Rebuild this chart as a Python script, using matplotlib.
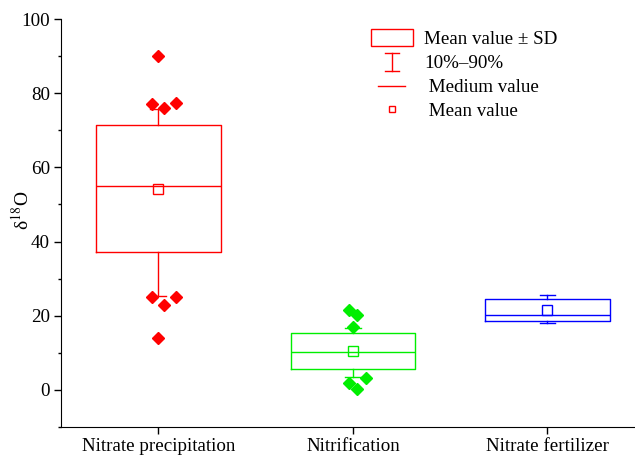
import matplotlib
matplotlib.use("Agg")
import matplotlib.pyplot as plt
from matplotlib.lines import Line2D
from matplotlib.patches import Patch
from matplotlib.legend_handler import HandlerBase

# sources on the x axis
categories = ["Nitrate precipitation", "Nitrification", "Nitrate fertilizer"]
colors = ["#ff0000", "#00ee00", "#0000ff"]

# box = mean +/- SD, whiskers = 10%-90%
means = [54.2, 10.6, 21.6]
sds = [17.15, 4.85, 2.9]
medians = [55.0, 10.3, 20.1]
p10 = [25.3, 3.4, 18.1]
p90 = [75.7, 16.8, 25.6]

# individual samples
red_points = [90.0, 77.0, 75.9, 77.3, 25.0, 23.0, 25.0, 13.9]
green_points = [21.6, 20.2, 17.0, 3.1, 1.9, 0.3]
blue_points = []
points = [red_points, green_points, blue_points]

plt.rcParams["font.family"] = ["Liberation Serif", "DejaVu Serif"]
plt.rcParams["mathtext.fontset"] = "stix"
FS = 13.7


class WhiskerHandler(HandlerBase):
    # little "I" shape for the 10%-90% entry
    def create_artists(self, legend, orig_handle, xdescent, ydescent,
                       width, height, fontsize, trans):
        cx = width / 2 - xdescent
        cap = width * 0.16
        y0 = -ydescent
        y1 = height - ydescent
        c = orig_handle.get_color()
        lines = [
            Line2D([cx, cx], [y0, y1], color=c, lw=1),
            Line2D([cx - cap, cx + cap], [y0, y0], color=c, lw=1),
            Line2D([cx - cap, cx + cap], [y1, y1], color=c, lw=1),
        ]
        for ln in lines:
            ln.set_transform(trans)
        return lines


class ShortLineHandler(HandlerBase):
    # median entry uses a shorter line than the box
    def create_artists(self, legend, orig_handle, xdescent, ydescent,
                       width, height, fontsize, trans):
        cx = width / 2 - xdescent
        half = width * 0.32
        y = height / 2 - ydescent
        ln = Line2D([cx - half, cx + half], [y, y],
                    color=orig_handle.get_color(), lw=1)
        ln.set_transform(trans)
        return [ln]


fig = plt.figure(figsize=(6.35, 4.58), dpi=100)
ax = fig.add_axes([0.096, 0.0677, 0.904, 0.8908])

positions = [1, 2, 3]
stats = []
for i in range(3):
    stats.append({
        "med": medians[i],
        "q1": means[i] - sds[i],
        "q3": means[i] + sds[i],
        "whislo": p10[i],
        "whishi": p90[i],
        "mean": means[i],
        "fliers": [],
    })

bp = ax.bxp(stats, positions=positions, widths=0.64, capwidths=0.08,
            showmeans=True, showfliers=False, patch_artist=False)

for i, c in enumerate(colors):
    bp["boxes"][i].set(color=c, lw=1)
    bp["medians"][i].set(color=c, lw=1)
    for w in bp["whiskers"][2 * i:2 * i + 2]:
        w.set(color=c, lw=1)
    for cp in bp["caps"][2 * i:2 * i + 2]:
        cp.set(color=c, lw=1)
    bp["means"][i].set(marker="s", markerfacecolor="none", markeredgecolor=c,
                       markersize=6.5, markeredgewidth=1)

# small horizontal spread of the sample diamonds, like the original
jitter = [
    [0, -0.031, 0.031, 0.092, -0.031, 0.031, 0.092, 0],
    [-0.02, 0.02, 0, 0.066, -0.02, 0.02],
    [],
]
for i, vals in enumerate(points):
    if not vals:
        continue
    xs = [positions[i] + dx for dx in jitter[i]]
    ax.plot(xs, vals, linestyle="none", marker="D", markersize=6,
            color=colors[i], zorder=5)

ax.set_xlim(0.5, 3.45)
ax.set_ylim(-10, 100)
ax.set_xticks(positions)
ax.set_xticklabels(categories)
ax.set_yticks([0, 20, 40, 60, 80, 100])
ax.set_yticks([-10, 10, 30, 50, 70, 90], minor=True)
ax.tick_params(axis="both", which="major", direction="out", length=5,
               width=1, labelsize=FS, pad=3)
ax.tick_params(axis="y", which="minor", direction="out", length=2.5, width=1)
ax.spines["top"].set_visible(False)
ax.spines["right"].set_visible(False)
ax.set_ylabel(r"δ$^{18}$O", fontsize=14)
ax.yaxis.set_label_coords(-0.05, 0.53)

handles = [
    Patch(facecolor="white", edgecolor="#ff0000", lw=1),
    Line2D([], [], color="#ff0000"),
    Line2D([], [], color="#ff0000", lw=1),
    Line2D([], [], color="#ff0000", marker="s", markersize=5,
           markerfacecolor="none", linestyle="none"),
]
labels = ["Mean value \u00b1 SD", "10%\u201390%", " Medium value", " Mean value"]
ax.legend(handles, labels, loc="upper left", bbox_to_anchor=(0.54, 0.976),
          frameon=False, fontsize=FS, handlelength=2.2, handleheight=1.05,
          handletextpad=0.58, labelspacing=0.25, borderpad=0, borderaxespad=0,
          handler_map={handles[1]: WhiskerHandler(),
                       handles[2]: ShortLineHandler()})

fig.savefig("out.png", dpi=100)
